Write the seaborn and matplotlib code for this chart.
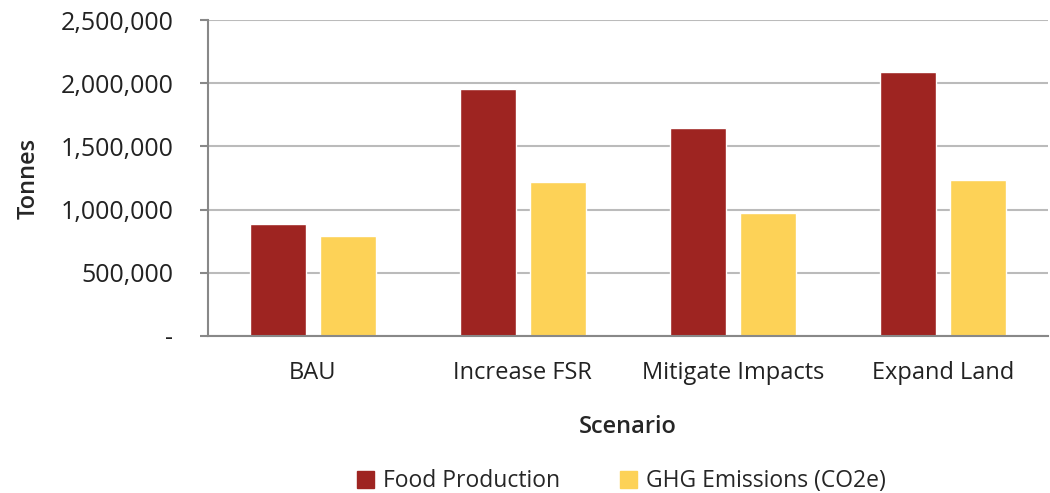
import numpy as np
import pandas as pd
import matplotlib
matplotlib.use("Agg")
import matplotlib.pyplot as plt
import seaborn as sns
from matplotlib.ticker import FuncFormatter, FixedLocator

# values (tonnes)
scenarios = ["BAU", "Increase FSR", "Mitigate Impacts", "Expand Land"]
food_production = [885000, 1952000, 1643000, 2090000]
ghg_emissions = [792000, 1218000, 972000, 1236000]
series_names = ["Food Production", "GHG Emissions (CO2e)"]
colors = ["#9E2421", "#FDD257"]

df = pd.DataFrame({
    "Scenario": scenarios * 2,
    "Tonnes": food_production + ghg_emissions,
    "Series": [series_names[0]] * 4 + [series_names[1]] * 4,
})

sns.set_style("white")
plt.rcParams['font.family'] = ['Open Sans', 'DejaVu Sans']

fig = plt.figure(figsize=(10.5, 4.93), dpi=100)
ax = fig.add_axes([0.198, 0.319, 0.800, 0.640])

sns.barplot(data=df, x="Scenario", y="Tonnes", hue="Series",
            palette=colors, width=0.67, gap=0.2, ax=ax,
            saturation=1, errorbar=None)

ax.set_ylim(0, 2500000)
ax.set_xlim(-0.5, 3.5)
ax.set_yticks(np.arange(0, 2500001, 500000))
ax.yaxis.set_major_formatter(FuncFormatter(lambda v, p: "-" if v == 0 else f"{int(v):,}"))
ax.grid(axis="y", color="#BBBBBB", linewidth=1.5)
ax.set_axisbelow(True)

for side in ["top", "right"]:
    ax.spines[side].set_visible(False)
for side in ["left", "bottom"]:
    ax.spines[side].set_color("#888888")
    ax.spines[side].set_linewidth(1.5)

# category boundaries get the tick marks, labels stay centred
ax.xaxis.set_minor_locator(FixedLocator([-0.5, 0.5, 1.5, 2.5, 3.5]))
ax.tick_params(axis="x", which="major", length=0, pad=18, labelsize=17, colors="#222222")
ax.tick_params(axis="x", which="minor", length=8, width=1.5, color="#888888", direction="out")
ax.tick_params(axis="y", length=6, width=1.5, color="#888888", direction="out",
               labelsize=18, labelcolor="#222222", pad=19, left=True)

ax.set_xlabel("Scenario", fontsize=17, fontweight="semibold", labelpad=22)
ax.set_ylabel("Tonnes", fontsize=17, fontweight="semibold", labelpad=14)

ax.legend_.remove()
handles = [plt.Rectangle((0, 0), 1, 1, color=c) for c in colors]
fig.legend(handles, series_names, loc="lower center", bbox_to_anchor=(0.592, -0.024),
           ncol=2, frameon=False, fontsize=16.5, handlelength=0.75, handleheight=0.75,
           handletextpad=0.4, columnspacing=2.6, borderpad=0)

fig.savefig("out.png", dpi=100)
